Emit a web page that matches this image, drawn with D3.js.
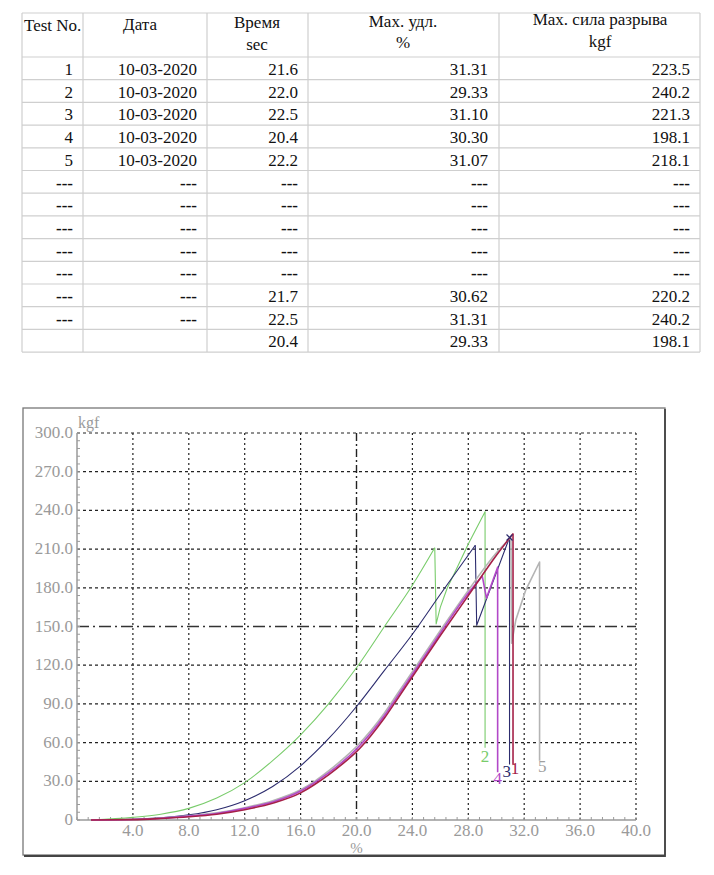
<!DOCTYPE html>
<html>
<head>
<meta charset="utf-8">
<script src="https://cdn.jsdelivr.net/npm/d3@7"></script>
<style>
  html, body { margin: 0; padding: 0; background: #fff; }
  svg { display: block; }
  text { font-family: "Liberation Serif", "DejaVu Serif", serif; }
</style>
</head>
<body>
<svg id="chart" width="714" height="875"></svg>
<script>
// ---------- table data ----------
const headers = [
  ["Test No."],
  ["Дата"],
  ["Время", "sec"],
  ["Max. удл.", "%"],
  ["Max. сила разрыва", "kgf"]
];
const testNo = ["1","2","3","4","5","---","---","---","---","---","---","---",""];
const dates  = ["10-03-2020","10-03-2020","10-03-2020","10-03-2020","10-03-2020","---","---","---","---","---","---","---",""];
const times  = ["21.6","22.0","22.5","20.4","22.2","---","---","---","---","---","21.7","22.5","20.4"];
const elong  = ["31.31","29.33","31.10","30.30","31.07","---","---","---","---","---","30.62","31.31","29.33"];
const force  = ["223.5","240.2","221.3","198.1","218.1","---","---","---","---","---","220.2","240.2","198.1"];

// ---------- chart data (elongation %, force kgf) ----------
const xTicks = [4, 8, 12, 16, 20, 24, 28, 32, 36, 40];
const yTicks = [0, 30, 60, 90, 120, 150, 180, 210, 240, 270, 300];

const curve2 = [[1,0],[4,2],[6,4.5],[8,9],[10,17],[12,29],[14,46],[16,66],[18,90],[20,118],[22,150],[24,182],[25.6,211],[25.7,152],[26.0,165],[26.5,180],[27.0,191],[28.0,214],[29.2,239],[29.2,56]];
const curve3 = [[1,0],[4,0.6],[6,1.8],[8,4],[10,8],[12,15],[14,26],[16,42],[18,63],[20,88],[22,116],[24,144],[26,175],[28.5,213],[28.6,151],[30.95,219],[30.95,43]];
const curve5 = [[1,0],[4,0.5],[6,1.6],[8,3.3],[10,5.5],[12,9.5],[14,15],[16,23.5],[17,30],[18,38],[19,47],[20,57],[21,69],[22,83],[23,99],[24,115],[26,147],[28,178],[30,207],[31.05,219],[31.1,137],[31.4,155],[32.1,178],[33.1,200],[33.1,46]];
const curve4 = [[1,0],[4,0.4],[6,1.4],[8,3],[10,5],[12,9],[14,14],[16,22.5],[17,29],[18,36.5],[19,45],[20,55],[21,67],[22,81],[23,97],[24,113],[26,145],[28,176],[29.0,189],[29.3,172],[30.1,196],[30.1,37]];
const curve1 = [[1,0],[4,0.3],[6,1.2],[8,2.5],[10,4.5],[12,8],[14,13],[16,21],[17,27.5],[18,35],[19,43.5],[20,53],[21,65],[22,79],[23,95],[24,111],[26,143],[28,174],[30,205],[31.2,222],[31.2,43]];

const curveNames  = ["2", "3", "5", "4", "1"];
const curveColors = ["#79cc6b", "#2c2c6e", "#b4b4b4", "#b248c8", "#a52048"];
const curves = [curve2, curve3, curve5, curve4, curve1];
const labelPos = [[29.2, 45], [30.75, 33], [33.3, 37], [30.1, 28], [31.35, 36]];

const svg = d3.select("#chart");
svg.append("rect").attr("width", 714).attr("height", 875).attr("fill", "#fff");

// ---------- table ----------
const colEdges = [22, 83, 207, 308, 499, 700];
const headTop = 13, headBottom = 57, rowH = 22.7;
const nRows = testNo.length;
const tableBottom = headBottom + nRows * rowH;
const tg = svg.append("g");
const gridColor = "#cfcfcf";
const hLines = [headTop, headBottom].concat(d3.range(1, nRows + 1).map(i => headBottom + i * rowH));
tg.selectAll("line.h").data(hLines).join("line")
  .attr("x1", colEdges[0]).attr("x2", colEdges[5])
  .attr("y1", d => d).attr("y2", d => d)
  .attr("stroke", gridColor).attr("stroke-width", 1.2);
tg.selectAll("line.v").data(colEdges).join("line")
  .attr("x1", d => d).attr("x2", d => d)
  .attr("y1", headTop).attr("y2", tableBottom)
  .attr("stroke", gridColor).attr("stroke-width", 1.2);

const headerLines = [
  [{x: 24, y: 31, a: "start"}],
  [{x: 140, y: 30, a: "middle"}],
  [{x: 257, y: 28, a: "middle"}, {x: 257, y: 50, a: "middle"}],
  [{x: 403, y: 27, a: "middle"}, {x: 403, y: 48, a: "middle"}],
  [{x: 600, y: 25, a: "middle"}, {x: 600, y: 47, a: "middle"}]
];
headerLines.forEach((col, ci) => {
  col.forEach((h, li) => {
    tg.append("text").attr("x", h.x).attr("y", h.y)
      .attr("text-anchor", h.a).attr("font-size", 17).attr("fill", "#111")
      .text(headers[ci][li]);
  });
});
const cols = [testNo, dates, times, elong, force];
const rightEdges = [73, 197, 298, 488, 690];
cols.forEach((arr, ci) => {
  tg.selectAll(null).data(arr).join("text")
    .attr("x", rightEdges[ci])
    .attr("y", (d, i) => headBottom + i * rowH + 18)
    .attr("text-anchor", "end")
    .attr("font-size", 17)
    .attr("font-weight", d => d === "---" ? "bold" : "normal")
    .attr("fill", "#111")
    .text(d => d);
});

// ---------- chart ----------
const x = d3.scaleLinear().domain([0, 40]).range([77, 636]);
const y = d3.scaleLinear().domain([0, 300]).range([820, 433]);

svg.append("rect").attr("x", 23).attr("y", 408).attr("width", 642).attr("height", 447)
  .attr("fill", "none").attr("stroke", "#777").attr("stroke-width", 1.3);
svg.append("path").attr("d", "M665,409L665,856L24,856")
  .attr("fill", "none").attr("stroke", "#444").attr("stroke-width", 1.8);

const g = svg.append("g");
g.selectAll("line.hg").data(yTicks.filter(d => d > 0)).join("line")
  .attr("x1", x(0)).attr("x2", x(40))
  .attr("y1", d => y(d)).attr("y2", d => y(d))
  .attr("stroke", d => d === 150 ? "#333" : "#222")
  .attr("stroke-width", d => d === 150 ? 1.4 : 1.2)
  .attr("stroke-dasharray", d => d === 150 ? "12,4,2,4" : "3,3");
g.selectAll("line.vg").data(xTicks).join("line")
  .attr("x1", d => x(d)).attr("x2", d => x(d))
  .attr("y1", y(300)).attr("y2", y(0))
  .attr("stroke", "#222")
  .attr("stroke-width", d => d === 20 ? 1.4 : 1.2)
  .attr("stroke-dasharray", d => d === 20 ? "8,3,2,3" : "2,3");

g.append("line").attr("x1", x(0)).attr("x2", x(40)).attr("y1", y(0)).attr("y2", y(0))
  .attr("stroke", "#9a9a9a").attr("stroke-width", 1.5);
g.append("line").attr("x1", x(0)).attr("x2", x(0)).attr("y1", y(0)).attr("y2", y(300))
  .attr("stroke", "#9a9a9a").attr("stroke-width", 1.5);
g.selectAll("line.mx").data(d3.range(0, 40.01, 0.8)).join("line")
  .attr("x1", d => x(d)).attr("x2", d => x(d))
  .attr("y1", y(0)).attr("y2", y(0) - 3)
  .attr("stroke", "#9a9a9a").attr("stroke-width", 1);
g.selectAll("line.my").data(d3.range(0, 300.01, 6)).join("line")
  .attr("x1", x(0)).attr("x2", x(0) + 3)
  .attr("y1", d => y(d)).attr("y2", d => y(d))
  .attr("stroke", "#9a9a9a").attr("stroke-width", 1);

g.selectAll("text.yl").data(yTicks).join("text")
  .attr("x", x(0) - 4).attr("y", d => y(d) + 5)
  .attr("text-anchor", "end").attr("font-size", 17).attr("fill", "#9a9a9a")
  .text(d => d === 0 ? "0" : d.toFixed(1));
g.selectAll("text.xl").data(xTicks).join("text")
  .attr("x", d => x(d)).attr("y", 836)
  .attr("text-anchor", "middle").attr("font-size", 17).attr("fill", "#9a9a9a")
  .text(d => d.toFixed(1));
g.append("text").attr("x", x(0) + 1).attr("y", 428).attr("font-size", 16).attr("fill", "#9a9a9a").text("kgf");
g.append("text").attr("x", x(20)).attr("y", 853).attr("text-anchor", "middle").attr("font-size", 15).attr("fill", "#9a9a9a").text("%");

const smooth = d3.line().x(d => x(d[0])).y(d => y(d[1])).curve(d3.curveMonotoneX);
const straight = d3.line().x(d => x(d[0])).y(d => y(d[1]));
curves.forEach((c, i) => {
  let k = 0;
  while (k + 1 < c.length && c[k + 1][1] >= c[k][1] && c[k + 1][0] > c[k][0]) k++;
  const w = i >= 2 ? 1.6 : 1.1;
  g.append("path").datum(c.slice(0, k + 1)).attr("d", smooth)
    .attr("fill", "none").attr("stroke", curveColors[i]).attr("stroke-width", w);
  g.append("path").datum(c.slice(k)).attr("d", straight)
    .attr("fill", "none").attr("stroke", curveColors[i]).attr("stroke-width", w)
    .attr("stroke-linejoin", "round");
});
const pk = curve3[15];
g.append("path")
  .attr("d", `M${x(pk[0]) - 3},${y(pk[1]) - 3}L${x(pk[0]) + 3},${y(pk[1]) + 3}M${x(pk[0]) - 3},${y(pk[1]) + 3}L${x(pk[0]) + 3},${y(pk[1]) - 3}`)
  .attr("stroke", "#2c2c6e").attr("stroke-width", 1.2);

curveNames.forEach((n, i) => {
  g.append("text").attr("x", x(labelPos[i][0])).attr("y", y(labelPos[i][1]))
    .attr("text-anchor", "middle").attr("font-size", 17)
    .attr("fill", curveColors[i] === "#b4b4b4" ? "#a0a0a0" : curveColors[i])
    .text(n);
});
</script>
</body>
</html>
